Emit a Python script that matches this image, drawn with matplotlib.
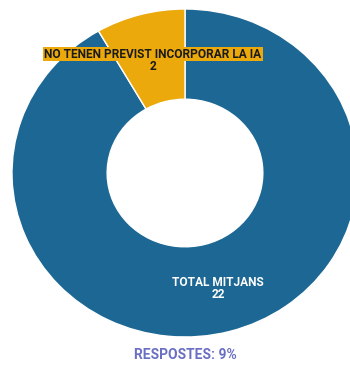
import matplotlib
matplotlib.use("Agg")
import matplotlib.pyplot as plt

categories = ["TOTAL MITJANS", "NO TENEN PREVIST INCORPORAR LA IA"]
values = [22, 2]
colors = ["#1d6794", "#eba90c"]
title = "RESPOSTES: 9%"

plt.rcParams["font.family"] = ["Roboto", "DejaVu Sans"]

W, H = 350, 369
fig = plt.figure(figsize=(W / 100, H / 100), dpi=100)

# donut geometry in pixels (slightly wider than tall)
cx, cy, rx, ry = 185, 173, 173, 164
ax = fig.add_axes([(cx - rx) / W, (H - cy - ry) / H, 2 * rx / W, 2 * ry / H])
ax.pie(values, colors=colors, startangle=90, counterclock=False, radius=1,
       wedgeprops=dict(width=0.55, edgecolor="white", linewidth=1))
ax.set_aspect("auto")
ax.set_xlim(-1, 1)
ax.set_ylim(-1, 1)
ax.axis("off")

def px(x, y):
    return (x - cx) / rx, (cy - y) / ry

# small-slice label: name on a highlight, value underneath
lx, ly = px(153, 54)
ax.text(lx, ly, categories[1], ha="center", va="center",
        fontsize=8.6, fontweight="bold", color="#1a1a1a",
        bbox=dict(boxstyle="square,pad=0.08", facecolor=colors[1], edgecolor="none"))
vx, vy = px(153, 66)
ax.text(vx, vy, str(values[1]), ha="center", va="center",
        fontsize=8.6, fontweight="bold", color="#1a1a1a")

bx, by = px(218, 283)
ax.text(bx, by, categories[0], ha="center", va="center",
        fontsize=8.6, fontweight="bold", color="white")
bx2, by2 = px(218, 295)
ax.text(bx2, by2, str(values[0]), ha="center", va="center",
        fontsize=8.6, fontweight="bold", color="white")

fig.text(185 / W, 1 - 355 / H, title, ha="center", va="center",
         fontsize=10, fontweight="bold", color="#6a6fc4")

fig.savefig("out.png", dpi=100)
